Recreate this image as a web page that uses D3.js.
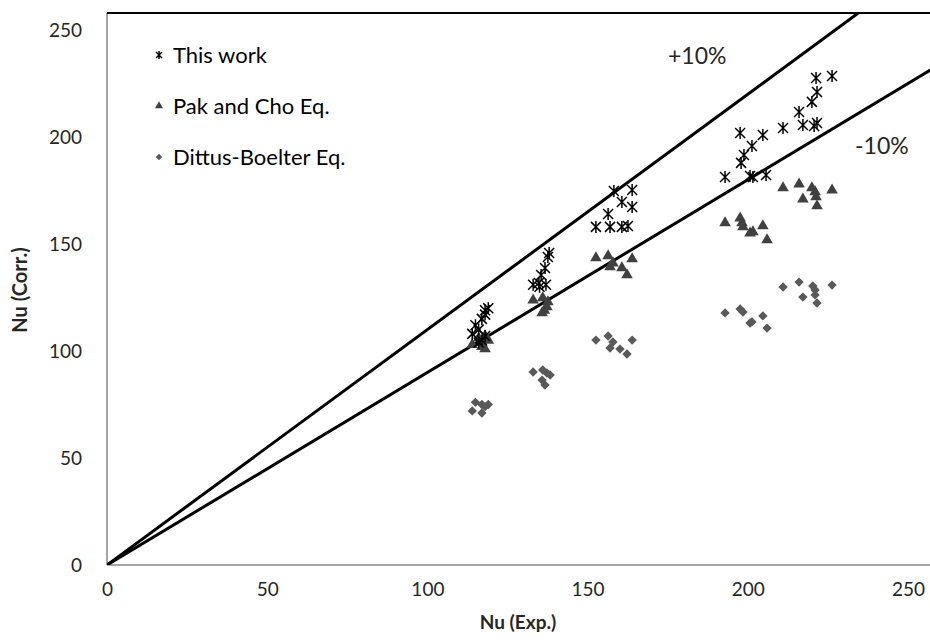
<!DOCTYPE html>
<html>
<head>
<meta charset="utf-8">
<script src="https://cdn.jsdelivr.net/npm/d3@7"></script>
<style>
  body { margin: 0; background: #fff; }
  text { font-family: Lato, "Open Sans", sans-serif; }
</style>
</head>
<body>
<svg id="chart" width="930" height="642"></svg>
<script>
/* Nu (Exp.) vs Nu (Corr.) parity chart */

var xTicks = [0, 50, 100, 150, 200, 250];
var yTicks = [0, 50, 100, 150, 200, 250];

// [Nu exp, Nu corr]
var thisWork = [
  [114,108],[115,112],[116,110],[117,115],[118,119],[119,120],[117,105],[118,107],[118,117],[116,104],
  [133,131],[134.8,131.8],[135.5,135.5],[136.7,138.8],[137.6,143.9],[138,145.8],[135,130],[137,131],
  [152.6,158],[157,158],[156.4,164],[160.7,158],[162.6,158.4],[158.2,174.8],[163.9,175.2],[160.7,169.6],[163.9,167.3],
  [192.9,181.3],[197.6,201.9],[197.9,187.9],[198.8,191.6],[201.3,195.8],[200.7,181.8],[201.6,181.3],[204.7,200.9],[205.7,182.2],
  [211,204.2],[216,211.7],[217.2,205.6],[220,216.4],[221.6,221],[220.7,205.1],[221.6,206.5],[221.3,227.6],[226.3,228.5]
];

var pakCho = [
  [114,103],[116,106],[117,104],[118,101],[118,107],[119,105],[117,102],
  [133,123.8],[136,124.8],[135.8,117.8],[137.3,120.6],[137.6,122.9],[136.5,119],
  [152.6,143.5],[156.4,144.4],[157.9,141.1],[157,139.3],[160.7,138.8],[162.3,135.5],[163.9,143],
  [192.9,159.8],[197.6,162.1],[198.2,159.8],[198.5,158],[200.7,155.1],[201.6,155.6],[204.7,158.4],[206,151.9],
  [211,176.2],[216,178],[217.2,171],[220,176.2],[221,174.3],[221.3,172],[221.6,167.8],[226.3,175.2]
];

var dittusBoelter = [
  [114,72],[115,76],[117,75],[118,74],[117,71],[119,75],
  [133,90.2],[136,91.1],[137.3,89.7],[135.8,86.4],[136.7,84.1],[138.3,88.8],
  [152.6,105.1],[156.4,107],[157.9,104.2],[157,101.4],[160.1,100.9],[162.3,98.6],[163.9,105.1],
  [192.9,117.8],[197.6,119.6],[198.5,118.2],[201.3,113.6],[200.7,113.1],[204.7,116.4],[206,110.7],
  [211,129.9],[216,132.2],[217.2,125.2],[220.3,130.4],[221,128.5],[221,126.2],[221.6,122.4],[226.3,130.8]
];

var bandFactors = [1.1, 0.9];
var bandLabels = ["+10%", "-10%"];
var legendNames = ["This work", "Pak and Cho Eq.", "Dittus-Boelter Eq."];

var svg = d3.select("#chart");
var x = d3.scaleLinear().domain([0, 250]).range([107, 908]);
var y = d3.scaleLinear().domain([0, 250]).range([565, 30]);
var xMax = x.invert(940), yMax = y.invert(13);

svg.append("clipPath").attr("id", "plotclip")
  .append("rect").attr("x", x(0)).attr("y", y(yMax))
  .attr("width", x(xMax) - x(0)).attr("height", y(0) - y(yMax));

// frame: gray axes, black top border
svg.append("line").attr("x1", x(0)).attr("x2", x(xMax)).attr("y1", y(0)).attr("y2", y(0))
  .attr("stroke", "#868686").attr("stroke-width", 1.5);
svg.append("line").attr("x1", x(0)).attr("x2", x(0)).attr("y1", y(0)).attr("y2", y(yMax))
  .attr("stroke", "#868686").attr("stroke-width", 1.5);
svg.append("line").attr("x1", x(0)).attr("x2", x(xMax)).attr("y1", y(yMax)).attr("y2", y(yMax))
  .attr("stroke", "#000").attr("stroke-width", 2);

// tick labels
var xAxis = svg.append("g").attr("transform", "translate(0," + y(0) + ")")
  .call(d3.axisBottom(x).tickValues(xTicks).tickSize(0).tickPadding(18));
var yAxis = svg.append("g").attr("transform", "translate(" + x(0) + ",0)")
  .call(d3.axisLeft(y).tickValues(yTicks).tickSize(0).tickPadding(25));
[xAxis, yAxis].forEach(function(a){
  a.select(".domain").remove();
  a.selectAll("text").attr("font-size", 19).attr("fill", "#262626")
    .style("font-family", "Lato, 'Open Sans', sans-serif");
});

// axis titles
svg.append("text").attr("x", 518).attr("y", 629).attr("text-anchor", "middle")
  .attr("font-size", 19).attr("font-weight", "bold").attr("fill", "#262626").text("Nu (Exp.)");
svg.append("text").attr("transform", "translate(27,290) rotate(-90)").attr("text-anchor", "middle")
  .attr("font-size", 20).attr("font-weight", "bold").attr("fill", "#262626").text("Nu (Corr.)");

// +/-10% lines
var plot = svg.append("g").attr("clip-path", "url(#plotclip)");
bandFactors.forEach(function(f){
  plot.append("line")
    .attr("x1", x(0)).attr("y1", y(0))
    .attr("x2", x(xMax)).attr("y2", y(xMax * f))
    .attr("stroke", "#000").attr("stroke-width", 3);
});
svg.append("text").attr("x", 668).attr("y", 64).attr("font-size", 23).attr("fill", "#262626").text(bandLabels[0]);
svg.append("text").attr("x", 855).attr("y", 154).attr("font-size", 23).attr("fill", "#262626").text(bandLabels[1]);

// markers
function star(g, s){
  var r = s / 2;
  g.append("path")
    .attr("d", "M" + (-r) + "," + (-r) + "L" + r + "," + r + "M" + (-r) + "," + r + "L" + r + "," + (-r) + "M0," + (-r - 1) + "L0," + (r + 1))
    .attr("stroke", "#000").attr("stroke-width", 1.5).attr("fill", "none");
}
var triSym = d3.symbol().type(d3.symbolTriangle).size(58);
var diaSym = d3.symbol().type(d3.symbolSquare).size(44);

plot.selectAll(".db").data(dittusBoelter).enter().append("path").attr("class", "db")
  .attr("d", diaSym)
  .attr("transform", function(d){ return "translate(" + x(d[0]) + "," + y(d[1]) + ") rotate(45)"; })
  .attr("fill", "#595959");

plot.selectAll(".pc").data(pakCho).enter().append("path").attr("class", "pc")
  .attr("d", triSym)
  .attr("transform", function(d){ return "translate(" + x(d[0]) + "," + y(d[1]) + ")"; })
  .attr("fill", "#404040");

plot.selectAll(".tw").data(thisWork).enter().append("g").attr("class", "tw")
  .attr("transform", function(d){ return "translate(" + x(d[0]) + "," + y(d[1]) + ")"; })
  .each(function(){ star(d3.select(this), 10); });

// legend
var legend = svg.append("g");
legendNames.forEach(function(name, i){
  var ly = 55 + i * 51;
  var m = legend.append("g").attr("transform", "translate(159," + ly + ")");
  if (i == 0) star(m, 6);
  else if (i == 1) m.append("path").attr("d", d3.symbol().type(d3.symbolTriangle).size(28)).attr("fill", "#404040");
  else m.append("path").attr("d", d3.symbol().type(d3.symbolSquare).size(20)).attr("transform", "rotate(45)").attr("fill", "#595959");
  legend.append("text").attr("x", 173).attr("y", ly + 8).attr("font-size", 22)
    .attr("fill", "#000").text(name);
});
</script>
</body>
</html>
